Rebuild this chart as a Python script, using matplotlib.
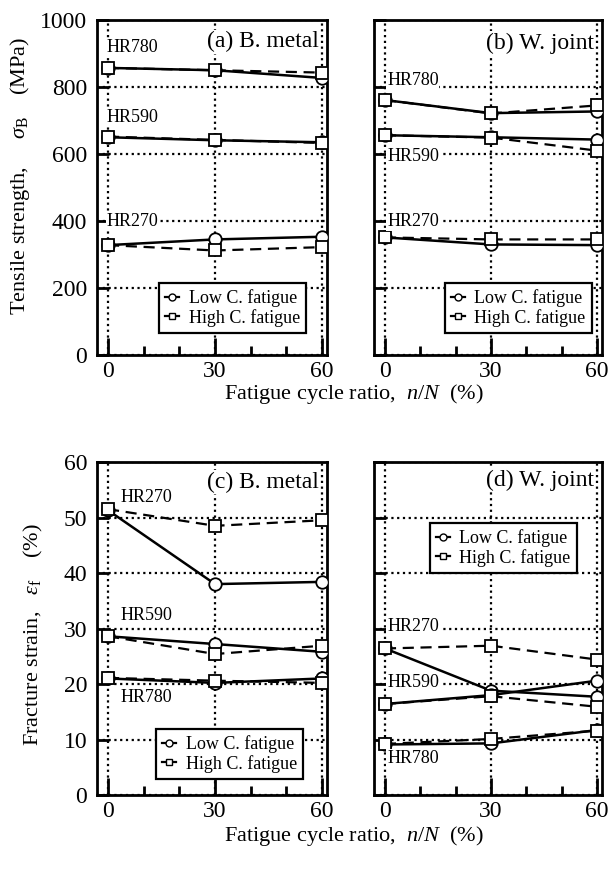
import matplotlib.pyplot as plt
from matplotlib.ticker import MultipleLocator

plt.rcParams['font.family'] = ['Liberation Serif', 'DejaVu Serif']
plt.rcParams['mathtext.fontset'] = 'custom'
plt.rcParams['mathtext.rm'] = 'Liberation Serif'
plt.rcParams['mathtext.it'] = 'Liberation Serif:italic'

cycle = [0, 30, 60]
grades = ['HR270', 'HR590', 'HR780']

# tensile strength (MPa), base metal
ts_bm_low = {'HR270': [328, 345, 353], 'HR590': [650, 641, 635], 'HR780': [857, 850, 827]}
ts_bm_high = {'HR270': [328, 312, 322], 'HR590': [652, 642, 633], 'HR780': [857, 850, 843]}
# tensile strength (MPa), welded joint
ts_wj_low = {'HR270': [351, 330, 328], 'HR590': [656, 650, 643], 'HR780': [761, 722, 727]}
ts_wj_high = {'HR270': [351, 345, 345], 'HR590': [656, 649, 610], 'HR780': [761, 721, 745]}
# fracture strain (%), base metal
fs_bm_low = {'HR270': [51.3, 38.0, 38.4], 'HR590': [28.6, 27.2, 25.8], 'HR780': [21.0, 20.2, 21.0]}
fs_bm_high = {'HR270': [51.5, 48.5, 49.5], 'HR590': [28.6, 25.4, 26.9], 'HR780': [21.1, 20.6, 20.2]}
# fracture strain (%), welded joint
fs_wj_low = {'HR270': [26.4, 18.8, 17.7], 'HR590': [16.4, 18.0, 20.6], 'HR780': [9.1, 9.3, 11.7]}
fs_wj_high = {'HR270': [26.4, 26.9, 24.4], 'HR590': [16.4, 17.8, 15.9], 'HR780': [9.2, 10.1, 11.6]}

fig = plt.figure(figsize=(6.08, 8.71), dpi=100)
W, H = 608, 871


def add_axes(l, r, t, b):
    return fig.add_axes([l / W, 1 - b / H, (r - l) / W, (b - t) / H])


ax_a = add_axes(97, 327, 20, 355)
ax_b = add_axes(374, 602, 20, 355)
ax_c = add_axes(97, 327, 462, 795)
ax_d = add_axes(374, 602, 462, 795)


def draw(ax, low, high, ymax, ystep, title, title_y, labels, leg_loc, leg_anchor, ylabels):
    for g in grades:
        ax.plot(cycle, low[g], color='black', lw=1.8, ls='-', marker='o', ms=9,
                mfc='white', mec='black', mew=1.3, zorder=3)
        ax.plot(cycle, high[g], color='black', lw=1.6, ls=(0, (5, 3)), marker='s', ms=9,
                mfc='white', mec='black', mew=1.3, zorder=4)
    ax.set_xlim(-3.1, 61.4)
    ax.set_ylim(0, ymax)
    ax.xaxis.set_major_locator(MultipleLocator(30))
    ax.xaxis.set_minor_locator(MultipleLocator(10))
    ax.yaxis.set_major_locator(MultipleLocator(ystep))
    ax.grid(True, which='major', color='black', ls=(0, (1, 1.6)), lw=1.6, zorder=1)
    ax.tick_params(axis='x', which='major', direction='in', length=12, width=2,
                   labelsize=17, pad=4, top=False)
    ax.tick_params(axis='x', which='minor', direction='in', length=6.5, width=2, top=False)
    ax.tick_params(axis='y', which='major', direction='in', length=8.5, width=2,
                   labelsize=17, pad=7, right=False, labelleft=ylabels)
    for s in ax.spines.values():
        s.set_linewidth(2)
    ax.text(59, title_y, title, ha='right', va='center', fontsize=17, zorder=6,
            bbox=dict(facecolor='white', edgecolor='none', pad=1))
    for name, (x, y) in labels.items():
        ax.text(x, y, name, ha='left', va='center', fontsize=13, zorder=5,
                bbox=dict(facecolor='white', edgecolor='none', pad=0.5))
    h_low, = ax.plot([], [], color='black', lw=1.6, ls='-', marker='o', ms=5,
                     mfc='white', mec='black', mew=1)
    h_high, = ax.plot([], [], color='black', lw=1.6, ls='-', marker='s', ms=5,
                      mfc='white', mec='black', mew=1)
    leg = ax.legend([h_low, h_high], ['Low C. fatigue', 'High C. fatigue'],
                    loc=leg_loc, bbox_to_anchor=leg_anchor, borderaxespad=0,
                    fontsize=13, handlelength=0.8, handletextpad=0.5,
                    fancybox=False, framealpha=1, edgecolor='black',
                    borderpad=0.35, labelspacing=0.1)
    leg.get_frame().set_linewidth(1.6)
    leg.set_zorder(7)


draw(ax_a, ts_bm_low, ts_bm_high, 1000, 200, '(a) B. metal', 935,
     {'HR780': (-0.3, 917), 'HR590': (-0.3, 710), 'HR270': (-0.3, 400)},
     'lower right', (0.909, 0.066), True)
draw(ax_b, ts_wj_low, ts_wj_high, 1000, 200, '(b) W. joint', 930,
     {'HR780': (0.6, 818), 'HR590': (0.6, 594), 'HR270': (0.6, 398)},
     'lower right', (0.956, 0.066), False)
draw(ax_c, fs_bm_low, fs_bm_high, 60, 10, '(c) B. metal', 56.4,
     {'HR270': (3.4, 53.6), 'HR590': (3.4, 32.4), 'HR780': (3.4, 17.6)},
     'lower right', (0.896, 0.048), True)
draw(ax_d, fs_wj_low, fs_wj_high, 60, 10, '(d) W. joint', 56.7,
     {'HR270': (0.6, 30.4), 'HR590': (0.6, 20.3), 'HR780': (0.6, 6.6)},
     'upper right', (0.89, 0.817), False)

xlab = 'Fatigue cycle ratio,  $n/N$  $\\mathit{(\\%)}$'
fig.text(354 / W, 1 - 394 / H, xlab, ha='center', va='center', fontsize=16)
fig.text(354 / W, 1 - 836 / H, xlab, ha='center', va='center', fontsize=16)
fig.text(20 / W, 1 - 176 / H, 'Tensile strength,     $\\sigma_{\\rm B}$    (MPa)',
         ha='center', va='center', rotation=90, fontsize=16)
fig.text(33 / W, 1 - 635 / H, 'Fracture strain,   $\\varepsilon_{\\rm f}$    $\\mathit{(\\%)}$',
         ha='center', va='center', rotation=90, fontsize=16)

fig.savefig('out.png', dpi=100)
